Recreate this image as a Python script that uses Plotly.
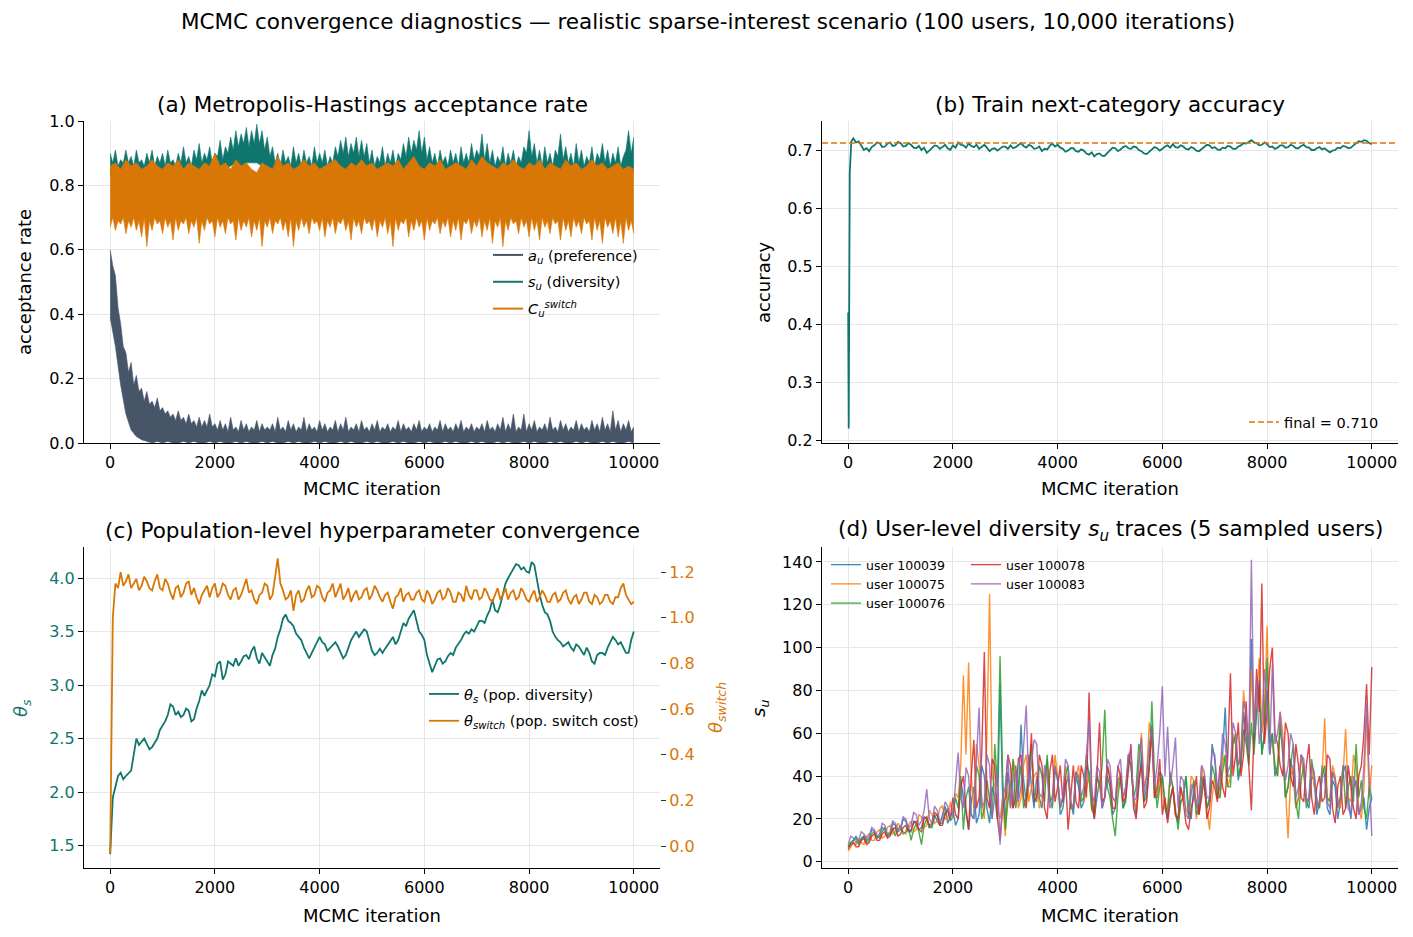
import numpy as np
import plotly.graph_objects as go

W, H = 1413, 937

# ---------------- (a) acceptance-rate bands (upper / lower envelopes) ----------------
au_hi = [.60,.55,.52,.42,.37,.30,.28,.22,.25,.18,.21,.16,.17,.13,.16,.12,.13,.11,.14,.10,.11,.09,.10,.08,.09,.07,
         .10,.07,.08,.06,.09,.06,.07,.05,.08,.05,.07,.05,.09,.05,.06,
         .04,.07,.04,.06,.035,.08,.04,.05,.035,.07,.04,.06,.035,.05,.04,.07,.035,.06,.04,.05,
         .04,.06,.035,.08,.04,.05,.035,.07,.04,.06,.035,.05,.04,.08,.035,.06,.04,.05,.035,.07,
         .04,.06,.035,.05,.04,.07,.035,.06,.04,.08,.035,.05,.04,.06,.035,.07,.04,.05,.035,.06,
         .04,.07,.035,.05,.04,.06,.035,.05,.04,.07,.035,.06,.04,.05,.035,.06,.04,.07,.035,.05,
         .04,.06,.035,.05,.04,.07,.035,.06,.04,.05,.035,.06,.04,.07,.035,.05,.04,.06,.035,.05,
         .04,.06,.035,.07,.04,.05,.035,.06,.04,.08,.035,.06,.04,.09,.035,.05,.04,.09,.035,.06,
         .04,.07,.035,.05,.04,.06,.035,.08,.04,.05,.035,.07,.04,.06,.035,.05,.04,.07,.035,.06,
         .04,.05,.035,.07,.04,.06,.035,.08,.04,.06,.035,.10,.04,.07,.035,.06,.04,.07,.035,.05]
au_lo = [.39,.30,.18,.09,.04,.02,.01,.005,0,.005,0,.005,0,0,.005,0,.005,0,0,.005,0,
         .005,0,0,.005,0,.005,0,0,.005,0,.005,0,0,.005,0,.005,0,0,.005,0,
         .005,0,0,.005,0,.005,0,0,.005,0,.005,0,0,.005,0,.005,0,0,.005,0,
         .005,0,0,.005,0,.005,0,0,.005,0,.005,0,0,.005,0,.005,0,0,.005,0,
         .005,0,0,.005,0,.005,0,0,.005,0,.005,0,0,.005,0,.005,0,0,.005,0]
su_hi = [.90,.87,.91,.86,.88,.87,.91,.87,.89,.86,.91,.87,.88,.86,.90,.87,.91,.86,.89,.87,.90,.86,.91,.87,.88,.86,
         .90,.87,.92,.87,.89,.86,.91,.88,.93,.87,.90,.88,.92,.87,.90,.89,.94,.88,.92,.90,.95,.91,.97,.92,.96,.93,
         .98,.92,.97,.93,.99,.93,.97,.91,.95,.89,.92,.87,.90,.86,.91,.87,.89,.86,.92,.87,.90,.86,.91,.87,.89,.86,
         .92,.87,.90,.87,.91,.86,.89,.87,.92,.89,.94,.90,.95,.89,.93,.90,.95,.89,.94,.89,.93,.87,.91,.86,.89,.87,
         .92,.86,.90,.87,.91,.86,.90,.88,.93,.89,.95,.90,.94,.91,.97,.90,.95,.88,.92,.87,.90,.86,.91,.87,.89,.86,
         .91,.87,.90,.86,.92,.87,.90,.87,.93,.88,.91,.89,.96,.88,.93,.87,.91,.86,.89,.87,.92,.86,.90,.87,.91,.86,
         .89,.87,.92,.90,.97,.89,.93,.87,.91,.86,.92,.87,.90,.86,.91,.89,.96,.88,.92,.87,.90,.86,.93,.87,.91,.86,
         .89,.87,.92,.86,.90,.88,.93,.87,.91,.86,.90,.87,.92,.86,.89,.91,.97,.90,.95]
su_lo = [.83,.84,.82,.84,.83,.84,.82,.84,.83,.84,.82,.84,.83,.84,.82,.84,.83,.84,.82,.84,.83,
         .84,.85,.86,.87,.85,.87,.87,.87,.86,.84,.83,.84,.82,.84,.83,.84,.82,.84,.83,.84,
         .82,.84,.83,.84,.82,.84,.83,.84,.82,.84,.83,.84,.82,.84,.83,.84,.82,.84,.83,.84,
         .82,.84,.83,.84,.82,.84,.83,.84,.82,.84,.83,.84,.82,.84,.83,.84,.82,.84,.83,.84,
         .82,.84,.83,.84,.82,.84,.83,.84,.82,.84,.83,.84,.82,.84,.83,.84,.82,.84,.83,.84]
cs_hi = [.86,.87,.85,.88,.86,.87,.85,.86,.88,.86,.85,.87,.86,.88,.85,.87,.86,.85,.87,.86,.90,
         .86,.87,.85,.88,.86,.87,.85,.84,.87,.86,.85,.89,.86,.87,.85,.86,.88,.86,.87,.85,
         .86,.87,.88,.86,.85,.87,.86,.88,.86,.87,.85,.86,.87,.86,.88,.85,.87,.89,.86,.85,
         .87,.86,.88,.85,.86,.87,.86,.85,.88,.86,.89,.87,.86,.85,.87,.86,.88,.86,.85,.87,
         .86,.88,.85,.87,.86,.85,.88,.86,.87,.85,.86,.88,.86,.87,.85,.86,.87,.85,.86,.85]
cs_lo = [.67,.70,.66,.69,.68,.70,.65,.69,.67,.70,.66,.69,.64,.70,.61,.69,.66,.70,.68,.69,.65,.70,.67,.69,.63,.70,
         .66,.69,.68,.70,.65,.69,.67,.70,.62,.69,.66,.70,.68,.69,.64,.70,.67,.69,.65,.70,.68,.69,.63,.70,.66,.69,
         .67,.70,.64,.69,.66,.70,.61,.69,.67,.70,.65,.69,.68,.70,.66,.69,.64,.70,.61,.69,.66,.70,.67,.69,.65,.70,
         .68,.69,.66,.70,.64,.69,.67,.70,.65,.69,.68,.70,.66,.69,.63,.70,.67,.69,.65,.70,.68,.69,.66,.70,.64,.69,
         .67,.70,.65,.69,.61,.70,.66,.69,.68,.70,.64,.69,.66,.70,.67,.69,.63,.70,.66,.69,.68,.70,.65,.69,.67,.70,
         .64,.69,.66,.70,.63,.69,.68,.70,.65,.69,.67,.70,.64,.69,.66,.70,.62,.69,.67,.70,.61,.69,.66,.70,.68,.69,
         .65,.70,.67,.69,.64,.70,.66,.69,.63,.70,.67,.69,.65,.70,.68,.69,.63,.70,.66,.69,.64,.70,.67,.69,.65,.70,
         .68,.69,.63,.70,.66,.69,.62,.70,.67,.69,.65,.70,.64,.69,.62,.70,.66,.69,.65]
accept_names = ["<i>a</i><sub><i>u</i></sub> (preference)",
                "<i>s</i><sub><i>u</i></sub> (diversity)",
                "<i>C</i><sub><i>u</i></sub><sup><i>switch</i></sup>"]

# ---------------- (b) train accuracy ----------------
acc_early_iter = [0, 10, 30, 60]
acc_early = [0.42, 0.22, 0.66, 0.715]
acc_main = [0.720,0.713,0.715,0.708,0.700,0.703,0.698,0.705,0.708,0.713,0.712,0.705,0.706,0.711,0.713,0.707,0.708,0.714,
            0.712,0.706,0.707,0.712,0.709,0.704,0.703,0.707,0.700,0.704,0.695,0.699,0.703,0.708,0.707,0.702,0.705,0.709,
            0.703,0.700,0.708,0.704,0.713,0.709,0.708,0.704,0.711,0.707,0.705,0.709,0.702,0.706,0.709,0.704,0.698,0.702,
            0.703,0.699,0.702,0.706,0.706,0.702,0.708,0.703,0.705,0.709,0.712,0.707,0.704,0.709,0.707,0.702,0.703,0.706,
            0.698,0.702,0.701,0.707,0.711,0.706,0.709,0.704,0.702,0.697,0.699,0.703,0.703,0.698,0.697,0.701,0.699,0.694,
            0.692,0.696,0.689,0.693,0.694,0.690,0.690,0.695,0.699,0.704,0.703,0.698,0.701,0.705,0.707,0.703,0.702,0.706,
            0.705,0.700,0.698,0.694,0.693,0.697,0.701,0.705,0.703,0.699,0.702,0.706,0.708,0.704,0.710,0.705,0.704,0.708,
            0.706,0.702,0.701,0.705,0.703,0.699,0.698,0.702,0.705,0.709,0.708,0.703,0.705,0.701,0.700,0.704,0.703,0.707,
            0.706,0.702,0.702,0.706,0.708,0.712,0.711,0.714,0.717,0.713,0.712,0.708,0.709,0.713,0.710,0.705,0.706,0.702,
            0.704,0.708,0.708,0.704,0.705,0.709,0.707,0.703,0.703,0.707,0.709,0.705,0.704,0.700,0.700,0.703,0.705,0.701,
            0.703,0.699,0.696,0.699,0.700,0.704,0.703,0.707,0.706,0.703,0.704,0.708,0.711,0.715,0.714,0.717,0.716,0.712,
            0.710]
acc_final_line = 0.712
acc_final_label = "final = 0.710"

# ---------------- (c) population hyperparameters ----------------
theta_s = [1.42,1.95,2.05,2.15,2.18,2.12,2.15,2.18,2.20,2.35,2.50,2.44,2.47,2.50,2.45,2.40,2.42,2.46,2.50,2.58,
           2.62,2.66,2.72,2.82,2.80,2.72,2.75,2.70,2.72,2.78,2.76,2.66,2.68,2.78,2.85,2.95,2.90,2.95,3.00,3.10,
           3.08,3.20,3.22,3.05,3.10,3.22,3.20,3.18,3.25,3.18,3.22,3.27,3.28,3.24,3.32,3.36,3.25,3.20,3.30,3.26,
           3.22,3.18,3.28,3.34,3.45,3.52,3.62,3.66,3.60,3.58,3.55,3.48,3.45,3.42,3.35,3.30,3.25,3.30,3.35,3.40,
           3.45,3.40,3.38,3.32,3.35,3.38,3.40,3.36,3.30,3.25,3.28,3.35,3.42,3.46,3.50,3.45,3.48,3.52,3.50,3.40,
           3.32,3.28,3.30,3.34,3.30,3.34,3.38,3.42,3.45,3.38,3.42,3.50,3.58,3.55,3.62,3.66,3.70,3.60,3.50,3.47,
           3.42,3.28,3.20,3.12,3.18,3.24,3.25,3.20,3.22,3.27,3.30,3.28,3.35,3.38,3.42,3.47,3.50,3.48,3.52,3.50,
           3.55,3.60,3.60,3.58,3.65,3.70,3.80,3.70,3.68,3.75,3.85,3.95,4.00,4.04,4.08,4.13,4.12,4.08,4.10,4.06,
           4.05,4.15,4.12,3.98,3.85,3.75,3.68,3.66,3.60,3.50,3.45,3.42,3.40,3.36,3.38,3.40,3.35,3.32,3.38,3.36,
           3.32,3.28,3.35,3.30,3.22,3.20,3.28,3.30,3.30,3.28,3.35,3.40,3.45,3.42,3.38,3.40,3.35,3.30,3.30,3.42,3.50]
theta_switch = [-0.03,1.00,1.15,1.13,1.20,1.14,1.16,1.19,1.13,1.15,1.17,1.12,1.14,1.18,1.16,1.13,1.12,1.16,1.19,1.13,
                1.12,1.17,1.15,1.11,1.08,1.13,1.14,1.09,1.11,1.15,1.16,1.10,1.13,1.09,1.06,1.10,1.12,1.14,1.09,1.13,
                1.15,1.09,1.11,1.15,1.14,1.10,1.08,1.12,1.13,1.08,1.10,1.14,1.17,1.11,1.12,1.08,1.06,1.10,1.11,1.15,
                1.14,1.08,1.10,1.18,1.26,1.15,1.12,1.08,1.09,1.12,1.03,1.10,1.12,1.07,1.08,1.12,1.14,1.09,1.10,1.14,
                1.13,1.09,1.07,1.11,1.12,1.15,1.09,1.12,1.15,1.08,1.10,1.13,1.07,1.10,1.12,1.08,1.09,1.12,1.13,1.08,
                1.10,1.14,1.12,1.09,1.07,1.10,1.11,1.07,1.04,1.09,1.10,1.13,1.07,1.10,1.11,1.08,1.08,1.11,1.12,1.08,
                1.07,1.12,1.10,1.06,1.08,1.11,1.12,1.08,1.09,1.13,1.11,1.07,1.07,1.11,1.10,1.07,1.14,1.10,1.08,1.12,
                1.12,1.08,1.09,1.13,1.11,1.08,1.07,1.10,1.13,1.08,1.10,1.13,1.08,1.11,1.12,1.08,1.09,1.13,1.11,1.08,
                1.07,1.10,1.12,1.07,1.09,1.12,1.10,1.07,1.07,1.10,1.11,1.07,1.08,1.11,1.12,1.08,1.06,1.09,1.10,1.06,
                1.08,1.11,1.11,1.07,1.06,1.10,1.09,1.06,1.07,1.10,1.10,1.07,1.06,1.09,1.09,1.13,1.15,1.10,1.08,1.06,1.07]

# ---------------- (d) user-level s_u traces ----------------
user_names = ["user 100039", "user 100075", "user 100076", "user 100078", "user 100083"]
u100039 = [7,9,10,12,9,11,12,10,11,15,14,11,12,16,15,12,13,18,17,14,15,20,19,15,14,19,18,15,16,21,20,16,17,22,19,17,22,26,18,21,24,17,
           20,38,30,22,15,28,35,18,22,45,40,25,18,35,30,20,83,30,20,42,
           30,25,45,30,64,38,28,50,35,25,40,30,25,40,48,28,30,45,38,22,
           25,35,40,28,22,40,35,25,28,45,42,28,20,30,38,25,30,40,35,22,
           25,38,40,25,30,50,45,30,22,35,50,28,35,45,64,30,30,42,40,25,
           20,30,35,22,18,28,30,40,25,20,35,28,22,35,40,25,30,55,48,30,
           35,50,72,40,40,58,55,38,45,70,60,48,104,55,70,85,50,60,80,50,
           60,40,45,62,55,30,35,48,40,25,30,50,45,28,25,40,38,22,28,45,
           40,25,22,38,35,20,28,42,45,30,20,35,38,22,25,30,15,25,30]
u100075 = [5,7,9,8,11,9,8,12,13,10,10,14,15,11,12,16,17,13,14,18,16,14,13,17,19,14,15,22,21,16,17,24,22,18,19,25,26,20,20,28,23,32,
           30,45,87,50,93,40,25,55,45,30,20,60,125,40,35,25,20,30,12,35,
           25,48,40,25,30,45,50,28,35,40,42,25,28,38,45,30,30,50,40,25,
           30,45,38,28,25,40,45,30,28,35,40,24,22,42,35,28,30,45,40,30,
           28,35,42,28,35,48,50,30,25,45,60,35,40,65,55,32,30,40,35,25,
           25,40,35,22,20,35,30,25,22,40,38,20,28,45,35,25,15,30,40,35,
           30,50,45,35,40,60,55,45,50,80,65,55,90,60,75,95,60,70,110,55,
           55,45,40,70,60,35,11,40,45,25,30,50,40,30,28,45,35,30,25,40,
           67,28,30,45,40,30,25,40,62,30,28,50,45,25,20,35,68,30,45]
u100076 = [7,9,10,11,8,10,12,9,10,13,14,12,11,14,16,12,13,16,12,15,17,13,14,17,10,15,18,14,8,17,20,16,16,21,22,18,18,23,25,19,21,30,
           25,40,15,30,35,22,20,45,40,20,25,38,30,20,55,35,96,40,15,28,
           35,48,25,35,45,25,30,40,55,30,28,45,40,28,50,30,25,42,40,25,
           30,40,45,25,25,42,38,28,30,50,40,25,22,40,35,45,71,35,30,20,
           12,30,40,25,28,48,45,30,35,55,50,28,30,45,75,40,25,35,40,28,
           22,42,35,25,15,28,30,40,20,32,38,22,25,40,35,25,28,45,40,30,
           30,42,50,35,35,55,60,40,45,62,55,45,65,50,70,80,50,60,95,55,
           60,45,40,65,50,30,35,45,55,28,20,38,45,25,30,48,40,28,25,40,
           45,30,28,42,38,25,30,45,25,35,40,28,55,30,38,25,20,35,30]
u100078 = [6,8,9,7,7,10,11,8,9,12,13,10,10,13,14,11,12,15,16,12,13,16,17,14,15,18,19,15,14,20,21,17,18,23,22,17,17,22,24,20,30,22,
           20,35,40,25,15,40,57,25,30,50,98,30,25,48,45,20,10,25,30,50,
           45,25,30,48,50,30,25,40,60,28,30,50,45,25,20,42,50,28,35,45,
           28,40,15,30,45,28,25,45,40,30,79,35,20,40,65,28,30,45,38,25,
           25,45,40,28,30,42,55,25,20,38,45,25,28,45,62,30,35,48,22,30,
           18,28,35,22,20,35,28,18,15,25,30,40,22,30,40,20,25,38,35,28,
           45,35,30,50,88,40,50,65,40,50,75,45,24,60,90,70,130,55,70,90,
           100,60,55,45,40,65,60,40,35,55,45,30,28,45,55,30,22,35,40,28,
           30,50,48,25,18,35,40,22,25,45,35,25,20,40,45,60,83,50,91]
u100083 = [8,12,11,9,10,14,13,11,12,16,15,12,13,18,17,13,14,19,18,15,16,21,20,16,17,23,22,17,19,24,
           34,20,18,26,24,19,20,28,26,21,22,35,
           51,30,25,44,40,22,20,48,72,25,28,50,45,20,30,42,8,30,35,50,
           25,40,42,28,35,55,73,35,45,57,55,32,30,45,40,25,28,44,38,26,
           30,48,45,28,25,42,40,30,35,50,66,32,28,45,42,25,30,48,45,30,
           28,44,48,30,35,50,52,28,30,46,58,32,40,55,62,35,45,60,82,40,
           63,35,45,58,25,40,38,22,20,36,35,25,28,45,42,30,30,52,50,35,
           40,60,55,42,45,65,60,45,50,75,70,50,141,60,85,55,65,90,75,50,
           92,55,60,70,50,38,45,60,55,30,35,50,48,28,30,45,42,25,28,40,
           40,28,25,42,38,26,30,45,42,25,22,40,35,22,28,45,74,40,12]
user_series = [u100039, u100075, u100076, u100078, u100083]

# ---------------- styling ----------------
SLATE, TEAL, ORANGE = "#475569", "#0f766e", "#d97706"
TAB = ["#1f77b4", "#ff7f0e", "#2ca02c", "#d62728", "#9467bd"]
GRID = "#e6e6e6"
FONT = "DejaVu Sans"
TICK, LAB, TTL, LEG, LEGD = 16, 18, 21.5, 14.5, 12.5


def X(px):
    return px / W


def Y(py):
    return 1 - py / H


def iters(arr, start=0, stop=10000):
    return np.linspace(start, stop, len(arr))


fig = go.Figure()


def band(lo, hi, color, xa, ya):
    fig.add_trace(go.Scatter(x=iters(lo), y=lo, mode="lines", line=dict(color=color, width=0.6),
                             xaxis=xa, yaxis=ya, showlegend=False, hoverinfo="skip"))
    fig.add_trace(go.Scatter(x=iters(hi), y=hi, mode="lines", line=dict(color=color, width=0.6),
                             fill="tonexty", fillcolor=color,
                             xaxis=xa, yaxis=ya, showlegend=False, hoverinfo="skip"))


# (a)
band(au_lo, au_hi, SLATE, "x", "y")
band(su_lo, su_hi, TEAL, "x", "y")
band(cs_lo, cs_hi, ORANGE, "x", "y")
for i, (nm, col) in enumerate(zip(accept_names, [SLATE, TEAL, ORANGE])):
    fig.add_trace(go.Scatter(x=[None], y=[None], mode="lines", line=dict(color=col, width=2),
                             name=nm, legend="legend", legendgroup=f"a{i}", xaxis="x", yaxis="y"))

# (b)
fig.add_trace(go.Scatter(x=list(acc_early_iter) + list(iters(acc_main, 100, 10000)),
                         y=acc_early + acc_main, mode="lines",
                         line=dict(color=TEAL, width=1.8), xaxis="x2", yaxis="y2", showlegend=False))
fig.add_shape(type="line", xref="x2 domain", x0=0, x1=1, yref="y2", y0=acc_final_line, y1=acc_final_line,
              line=dict(color=ORANGE, width=1.5, dash="6px,3px"))
fig.add_trace(go.Scatter(x=[None], y=[None], mode="lines", line=dict(color=ORANGE, width=1.5, dash="6px,3px"),
                         name=acc_final_label, legend="legend2", xaxis="x2", yaxis="y2"))

# (c)
fig.add_trace(go.Scatter(x=iters(theta_s), y=theta_s, mode="lines", line=dict(color=TEAL, width=1.8),
                         name="<i>θ</i><sub><i>s</i></sub> (pop. diversity)", legend="legend3",
                         legendgroup="c0", xaxis="x3", yaxis="y3"))
fig.add_trace(go.Scatter(x=iters(theta_switch), y=theta_switch, mode="lines", line=dict(color=ORANGE, width=1.8),
                         name="<i>θ</i><sub><i>switch</i></sub> (pop. switch cost)", legend="legend3",
                         legendgroup="c1", xaxis="x3", yaxis="y5"))

# (d)
for k, (nm, ser, col) in enumerate(zip(user_names, user_series, TAB)):
    fig.add_trace(go.Scatter(x=iters(ser), y=ser, mode="lines", line=dict(color=col, width=1.4),
                             opacity=0.85, name=nm, legend="legend4" if k < 3 else "legend5",
                             legendgroup=f"d{k}", xaxis="x4", yaxis="y4"))

# ---------------- axes ----------------
XA = [84, 660]
XB = [822, 1398]
YT = [121, 443]
YB = [547, 868]
XT = [0, 2000, 4000, 6000, 8000, 10000]


def dom_x(p):
    return [X(p[0]), X(p[1])]


def dom_y(p):
    return [Y(p[1]), Y(p[0])]


def xaxis(dom, anchor):
    return dict(domain=dom_x(dom), anchor=anchor, range=[-500, 10500],
                tickvals=XT, ticktext=[str(v) for v in XT], automargin=False,
                showline=True, linecolor="black", linewidth=1.3, mirror=False,
                ticks="outside", ticklen=5, tickwidth=1.2, tickcolor="black",
                showgrid=True, gridcolor=GRID, gridwidth=1, zeroline=False,
                tickfont=dict(size=TICK, color="black", family=FONT))


def yaxis(dom, anchor, rng, dtick, fmt, tick0=0, color="black"):
    return dict(domain=dom_y(dom), anchor=anchor, range=rng, dtick=dtick, tick0=tick0, tickformat=fmt,
                automargin=False,
                showline=True, linecolor="black", linewidth=1.3, mirror=False,
                ticks="outside", ticklen=5, tickwidth=1.2, tickcolor="black",
                showgrid=True, gridcolor=GRID, gridwidth=1, zeroline=False,
                tickfont=dict(size=TICK, color=color, family=FONT))


layout = dict(
    width=W, height=H, autosize=False,
    margin=dict(l=0, r=0, t=0, b=0, pad=0, autoexpand=False),
    paper_bgcolor="white", plot_bgcolor="white",
    font=dict(family=FONT, color="black"),
    xaxis=xaxis(XA, "y"), yaxis=yaxis(YT, "x", [0, 1], 0.2, ".1f"),
    xaxis2=xaxis(XB, "y2"), yaxis2=yaxis(YT, "x2", [0.195, 0.75], 0.1, ".1f"),
    xaxis3=xaxis(XA, "y3"), yaxis3=yaxis(YB, "x3", [1.29, 4.29], 0.5, ".1f", color=TEAL),
    xaxis4=xaxis(XB, "y4"), yaxis4=yaxis(YB, "x4", [-2.9, 147], 20, "d"),
    yaxis5=dict(overlaying="y3", anchor="x3", side="right", range=[-0.096, 1.31], dtick=0.2, tick0=0,
                tickformat=".1f", showline=False, showgrid=False, zeroline=False, automargin=False,
                ticks="outside", ticklen=5, tickwidth=1.2, tickcolor="#333333",
                tickfont=dict(size=TICK, color=ORANGE, family=FONT)),
    showlegend=True,
    legend=dict(x=X(488), y=Y(239), xanchor="left", yanchor="top", bgcolor="rgba(0,0,0,0)",
                font=dict(size=LEG, family=FONT), tracegroupgap=5, traceorder="grouped"),
    legend2=dict(x=X(1244), y=Y(406), xanchor="left", yanchor="top", bgcolor="rgba(0,0,0,0)",
                 font=dict(size=LEG, family=FONT)),
    legend3=dict(x=X(424), y=Y(678), xanchor="left", yanchor="top", bgcolor="rgba(0,0,0,0)",
                 font=dict(size=LEG, family=FONT), tracegroupgap=5, traceorder="grouped"),
    legend4=dict(x=X(826), y=Y(550), xanchor="left", yanchor="top", bgcolor="rgba(0,0,0,0)",
                 font=dict(size=LEGD, family=FONT), tracegroupgap=1, traceorder="normal"),
    legend5=dict(x=X(966), y=Y(550), xanchor="left", yanchor="top", bgcolor="rgba(0,0,0,0)",
                 font=dict(size=LEGD, family=FONT), tracegroupgap=1, traceorder="normal"),
)
fig.update_layout(**layout)

ann = []


def text(px, py, s, size, color="black", angle=0):
    ann.append(dict(x=X(px), y=Y(py), xref="paper", yref="paper", text=s, showarrow=False,
                    xanchor="center", yanchor="middle", textangle=angle,
                    font=dict(size=size, color=color, family=FONT)))


text(708, 21, "MCMC convergence diagnostics — realistic sparse-interest scenario (100 users, 10,000 iterations)", TTL)
text(372, 104, "(a) Metropolis-Hastings acceptance rate", TTL)
text(1110, 104, "(b) Train next-category accuracy", TTL)
text(372, 530, "(c) Population-level hyperparameter convergence", TTL)
text(1110, 530, "(d) User-level diversity <i>s</i><sub><i>u</i></sub> traces (5 sampled users)", TTL)
for cx, cy in [(372, 489), (1110, 489), (372, 915), (1110, 915)]:
    text(cx, cy, "MCMC iteration", LAB)
text(24, 282, "acceptance rate", LAB, angle=-90)
text(763, 282, "accuracy", LAB, angle=-90)
text(22, 708, "<i>θ</i><sub><i>s</i></sub>", LAB, color=TEAL, angle=-90)
text(717, 708, "<i>θ</i><sub><i>switch</i></sub>", LAB, color=ORANGE, angle=-90)
text(760, 708, "<i>s</i><sub><i>u</i></sub>", LAB, angle=-90)
fig.update_layout(annotations=ann)

fig.write_html("out.html")
